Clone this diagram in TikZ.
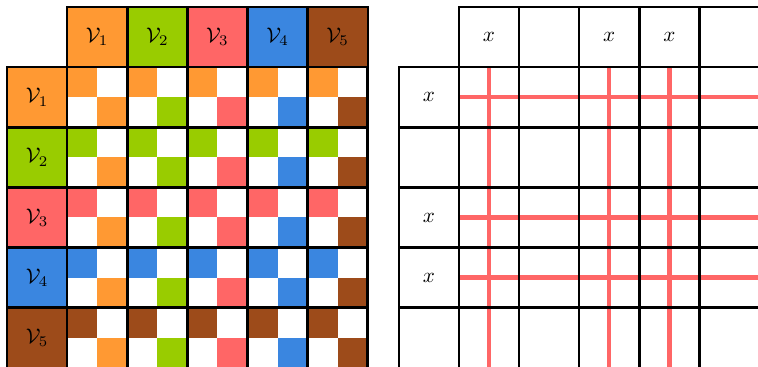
\documentclass[tikz,border=0pt]{standalone}
\usepackage{amsmath}
\usetikzlibrary{positioning}

\definecolor{c1}{RGB}{255,153,51}
\definecolor{c2}{RGB}{153,204,0}
\definecolor{c3}{RGB}{255,102,102}
\definecolor{c4}{RGB}{58,134,224}
\definecolor{c5}{RGB}{157,75,26}

\begin{document}
\begin{tikzpicture}[
    every node/.style={rectangle, draw, very thick, minimum size=1cm, inner sep=0pt},
    hit/.style={line width=2pt, c3}
]
\useasboundingbox (-1.1167,-4.975) rectangle (11.49,1.1167);

% left: colour blocks
\foreach \i in {1,...,5} {
  \node[fill=c\i] (top\i) at (\i-0.5,0.5) {$\mathcal{V}_\i$};
  \node[fill=c\i] (side\i) at (-0.5,0.5-\i) {$\mathcal{V}_\i$};
}
\foreach \i in {1,...,5}
  \foreach \j in {1,...,5} {
    \fill[c\i] (\j-1,1-\i) rectangle (\j-0.5,0.5-\i);
    \fill[c\j] (\j-0.5,0.5-\i) rectangle (\j,-\i);
  }
\draw[very thick] (0,-5) grid (5,0);

% right: crossing lines
\begin{scope}[xshift=6.5167cm]
\foreach \j/\t in {1/x,2/{},3/x,4/x,5/{}} {
  \node (rtop\j) at (\j-0.5,0.5) {$\t$};
  \node (rside\j) at (-0.5,0.5-\j) {$\t$};
}
\foreach \k in {1,3,4} {
  \draw[hit] (rside\k.east) -- ++(5,0);
  \draw[hit] (rtop\k.south) -- ++(0,-5);
}
\draw[very thick] (0,-5) grid (5,0);
\end{scope}
\end{tikzpicture}
\end{document}
